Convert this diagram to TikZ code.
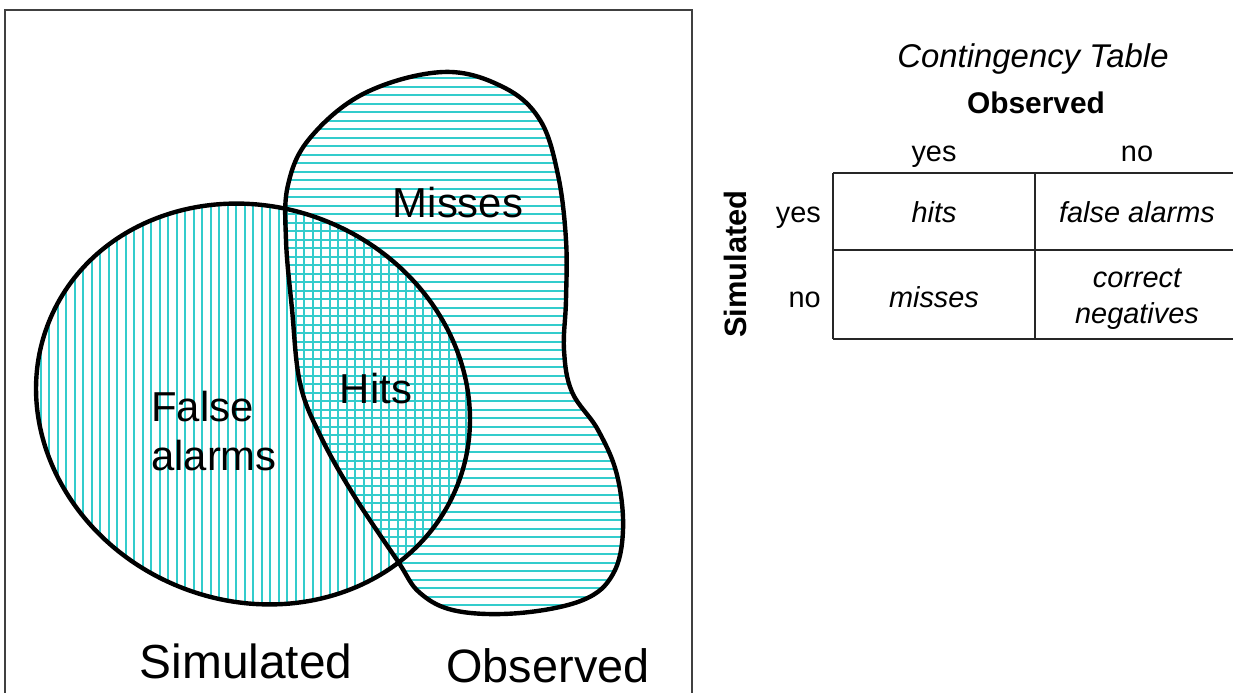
\documentclass[tikz,border=0pt]{standalone}
\usepackage{fontspec}
\setmainfont{Liberation Sans}
\definecolor{hatch}{RGB}{51,204,204}
\begin{document}
\begin{tikzpicture}[x=1bp,y=-1bp,
  hatchline/.style={hatch, line width=2bp},
  outline/.style={line width=4.4bp, black, line join=round},
  framebox/.style={line width=1.5bp, black!75},
  simshape/.style={rotate around={-22:(253,404)}},
  biglabel/.style={font=\fontsize{42}{50}\selectfont, inner sep=0pt},
  tabtext/.style={font=\fontsize{29}{37}\selectfont, inner sep=0pt, anchor=base},
  celltext/.style={font=\fontsize{29}{37}\selectfont\itshape, inner sep=0pt, anchor=base},
  tabline/.style={line width=1.4bp, black!85}]
\useasboundingbox (0,0) rectangle (1233,693);
% frame
\coordinate (f1) at (5,700);
\coordinate (f2) at (5,10);
\coordinate (f3) at (692,10);
\coordinate (f4) at (692,700);
\draw[framebox] (f1) -- (f2) -- (f3) -- (f4);
% vertical hatching in Simulated region
\begin{scope}
\clip[simshape] (253,404) ellipse [x radius=220, y radius=197];
\foreach \i in {0,...,53} {
  \pgfmathtruncatemacro{\xx}{32+round(8.5*\i)}
  \draw[hatchline] (\xx,190) -- (\xx,615);
}
\end{scope}
% horizontal hatching in Observed region
\begin{scope}
\clip plot[smooth cycle, tension=0.62] coordinates {(443,72) (503,87) (540,120) (558,175) (566,240) (566,300) (564,350) (572,392) (598,430) (617,475) (623,530) (613,574) (583,600) (520,613) (457,611) (420,593) (397,560) (353,494) (320,435) (300,383) (292,309) (286,240) (288,185) (310,138) (365,93)};
\foreach \i in {0,...,64} {
  \pgfmathtruncatemacro{\yy}{78+round(8.5*\i)}
  \draw[hatchline] (275,\yy) -- (630,\yy);
}
\end{scope}
% outlines
\draw[outline, simshape] (253,404) ellipse [x radius=220, y radius=197];
\draw[outline] plot[smooth cycle, tension=0.62] coordinates {(443,72) (503,87) (540,120) (558,175) (566,240) (566,300) (564,350) (572,392) (598,430) (617,475) (623,530) (613,574) (583,600) (520,613) (457,611) (420,593) (397,560) (353,494) (320,435) (300,383) (292,309) (286,240) (288,185) (310,138) (365,93)};
% region labels
\node[biglabel] (misses) at (458,203) {Misses};
\node[biglabel] (hits) at (376,389) {Hits};
\node[biglabel, anchor=west, align=left] (falarms) at (151,431) {False\\alarms};
\node[font=\fontsize{48}{52}\selectfont, inner sep=0pt] (simlabel) at (246,661) {Simulated};
\node[font=\fontsize{47}{52}\selectfont, inner sep=0pt] (obslabel) at (548,666) {Observed};
% table
\node[font=\fontsize{33}{38}\selectfont\itshape, inner sep=0pt] (ttitle) at (1033,59) {Contingency Table};
\node[font=\fontsize{30}{36}\selectfont\bfseries, inner sep=0pt] (tobs) at (1036,103) {Observed};
\node[tabtext] (cyes) at (934,162) {yes};
\node[tabtext] (cno) at (1137,162) {no};
\node[tabtext, anchor=base east] (ryes) at (821,223) {yes};
\node[tabtext, anchor=base east] (rno) at (821,307) {no};
\node[font=\fontsize{31}{36}\selectfont\bfseries, inner sep=0pt, rotate=90] (tsim) at (735,264) {Simulated};
\node[celltext] (c11) at (934,223) {hits};
\node[celltext] (c12) at (1137,223) {false alarms};
\node[celltext] (c21) at (934,307) {misses};
\node[celltext] (c22a) at (1137,287) {correct};
\node[celltext] (c22b) at (1137,323) {negatives};
\coordinate (tl) at (833,173);
\coordinate (tr) at (1233,173);
\coordinate (ml) at (833,250);
\coordinate (mr) at (1233,250);
\coordinate (bl) at (833,339);
\coordinate (br) at (1233,339);
\coordinate (tm) at (1035,173);
\coordinate (bm) at (1035,339);
\draw[tabline] (tl) -- (tr);
\draw[tabline] (ml) -- (mr);
\draw[tabline] (bl) -- (br);
\draw[tabline] (tl) -- (bl);
\draw[tabline] (tm) -- (bm);
\end{tikzpicture}
\end{document}
